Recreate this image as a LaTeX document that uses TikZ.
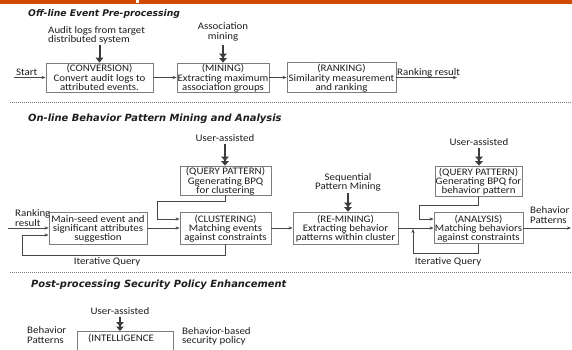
\documentclass[tikz,border=0pt]{standalone}
\usepackage{fontspec}
\setmainfont{Carlito}[FakeStretch=1.09]
\newfontfamily\titlefont{DejaVu Sans}
\usetikzlibrary{arrows.meta}
\definecolor{barorange}{RGB}{208,74,2}
\definecolor{txt}{RGB}{30,30,30}
\definecolor{boxline}{RGB}{125,125,125}
\definecolor{conn}{RGB}{70,70,70}
\definecolor{thickc}{RGB}{60,60,60}
\definecolor{sepc}{RGB}{120,120,120}
\begin{document}
\begin{tikzpicture}[x=1pt,y=-1pt,
  every node/.style={text=txt, font=\fontsize{10}{9.2}\selectfont, inner sep=0pt},
  procbox/.style n args={2}{draw=boxline, line width=0.8pt, align=center, minimum width=#1, minimum height=#2, text height=25.4pt, text depth=0pt},
  lbl/.style={align=center},
  lbll/.style={align=left, anchor=west},
  sectitle/.style={anchor=west, font=\titlefont\bfseries\itshape\fontsize{#1}{11}\selectfont},
  sectitle/.default=9.9,
  connarrow/.style={draw=conn, line width=0.7pt, -{Stealth[length=4pt,width=3.2pt]}},
  bigarrow/.style={draw=thickc, line width=2pt, -{Triangle[length=5pt,width=7.5pt]}},
  bigdarrow/.style={draw=thickc, line width=2pt, -{Triangle[length=4.5pt,width=7.5pt]Triangle[length=4.5pt,width=7.5pt]}},
  sepline/.style={draw=sepc, line width=0.6pt, dash pattern=on 1.2pt off 0.8pt}]
\useasboundingbox (0,0) rectangle (572,350);
\clip (0,0) rectangle (572,350);
\fill[white] (0,0) rectangle (572,350);
% top bar
\fill[barorange] (0,0) rectangle (572,4.5);
\fill[white] (136,0) rectangle (139,3.5);

% ---------- Section 1 ----------
\node[sectitle=9.2] (t1) at (28,14) {Off-line Event Pre-processing};
\node[procbox={107pt}{29pt}] (conv) at (99.5,77.5) {(CONVERSION)\\Convert audit logs to\\attributed events.};
\node[procbox={92pt}{29pt}] (mining) at (223,77.5) {(MINING)\\Extracting maximum\\association groups};
\node[procbox={109pt}{30pt}] (ranking) at (341.5,77.5) {(RANKING)\\Similarity measurement\\and ranking};
\node[lbll] (audit) at (48,35) {Audit logs from target\\distributed system};
\node[lbl] (assoc) at (223,32) {Association\\mining};
\node[anchor=west] (start) at (16,72.5) {Start};
\node[anchor=west] (rres) at (397,72.5) {Ranking result};
\coordinate (startc) at (14,77.5);
\coordinate (rresc) at (457,77.5);
\coordinate (auditc) at (99.5,45);
\coordinate (assocc) at (223,45);
\draw[bigarrow] (auditc) -- (conv.north);
\draw[bigdarrow] (assocc) -- (mining.north);
\draw[connarrow] (startc) -- (conv.west);
\draw[connarrow] (conv.east) -- (mining.west);
\draw[connarrow] (mining.east) -- (ranking.west);
\draw[connarrow] (ranking.east) -- (rresc);

\draw[sepline] (10,102) -- (572,102);

% ---------- Section 2 ----------
\node[sectitle] (t2) at (28,119) {On-line Behavior Pattern Mining and Analysis};
\node[procbox={91pt}{29pt}] (qp1) at (225.5,180.5) {(QUERY PATTERN)\\Ggenerating BPQ\\for clustering};
\node[procbox={91pt}{32pt}] (clus) at (225.5,228) {(CLUSTERING)\\Matching events\\against constraints};
\node[procbox={98pt}{32pt}] (seed) at (98,228) {Main-seed event and\\significant attributes\\suggestion};
\node[procbox={105pt}{32pt}] (remine) at (345.5,228) {(RE-MINING)\\Extracting behavior\\patterns within cluster};
\node[procbox={87pt}{30pt}] (qp2) at (478.5,181) {(QUERY PATTERN)\\Generating BPQ for\\behavior pattern};
\node[procbox={89pt}{31pt}] (anal) at (478.5,228) {(ANALYSIS)\\Matching behaviors\\against constraints};
\node[lbl] (ua1) at (225,138) {User-assisted};
\node[lbl] (ua2) at (479,142) {User-assisted};
\node[lbl] (seq) at (348,182) {Sequential\\Pattern Mining};
\node[lbll] (rr2) at (15,218) {Ranking\\result};
\node[lbll] (bp1) at (530,215) {Behavior\\Patterns};
\node[lbl] (iq1) at (107,262) {Iterative Query};
\node[lbl] (iq2) at (448,262) {Iterative Query};

\coordinate (ua1c) at (225,144);
\coordinate (ua2c) at (479,147.5);
\coordinate (seqc) at (348,192.5);
\draw[bigdarrow] (ua1c) -- (ua1c |- qp1.north);
\draw[bigdarrow] (ua2c) -- (ua2c |- qp2.north);
\draw[bigdarrow] (seqc) -- (seqc |- remine.north);

\coordinate (rrc) at (8,228);
\draw[connarrow] (rrc) -- (seed.west);
\draw[connarrow] (seed.east) -- (clus.west);
\coordinate (l1a) at (157,201);
\coordinate (l1b) at (157,219);
\draw[connarrow] (qp1.south) |- (l1a) -- (l1b) -- (l1b -| clus.west);
\coordinate (il1) at (22,255);
\coordinate (il2) at (22,235);
\draw[connarrow] (clus.south) |- (il1) -- (il2) -- (il2 -| seed.west);
\draw[connarrow] (clus.east) -- (remine.west);
\draw[connarrow] (remine.east) -- (anal.west);
\coordinate (l2a) at (419,205);
\coordinate (l2b) at (419,219);
\draw[connarrow] (qp2.south) |- (l2a) -- (l2b) -- (l2b -| anal.west);
\coordinate (il3) at (413,253);
\coordinate (il4) at (413,229);
\draw[connarrow] (anal.south) |- (il3) -- (il4);
\coordinate (outc) at (571,228);
\draw[connarrow] (anal.east) -- (outc);

\draw[sepline] (10,272) -- (572,272);

% ---------- Section 3 ----------
\node[sectitle] (t3) at (31,285) {Post-processing Security Policy Enhancement};
\node[lbl] (ua3) at (120,311) {User-assisted};
\node[draw=boxline, line width=0.8pt, minimum width=96pt, minimum height=44pt, anchor=north west] (intel) at (77,331) {};
\node[lbl] (intelt) at (121,338.5) {(INTELLIGENCE};
\node[lbll] (bp2) at (27,335) {Behavior\\Patterns};
\node[lbll] (bsp) at (182,336) {Behavior-based\\security policy};
\coordinate (ua3c) at (120,316.5);
\draw[bigdarrow] (ua3c) -- (ua3c |- intel.north);
\end{tikzpicture}
\end{document}
